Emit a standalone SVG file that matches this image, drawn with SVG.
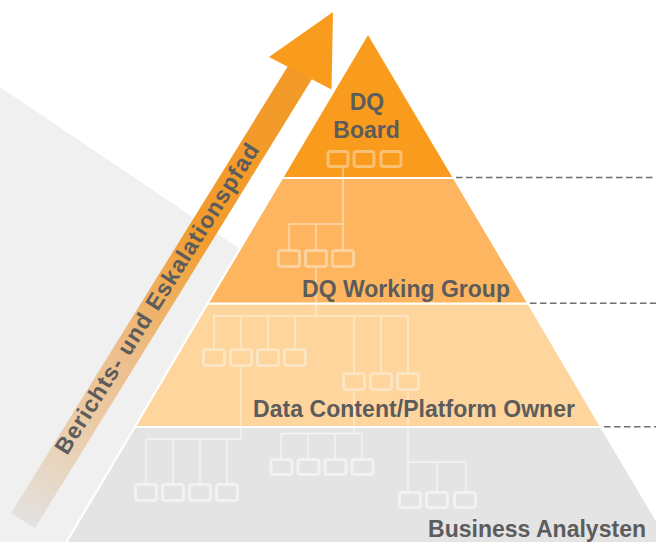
<svg xmlns="http://www.w3.org/2000/svg" width="656" height="542" viewBox="0 0 656 542">
  <defs>
    <linearGradient id="shaftGrad" gradientUnits="userSpaceOnUse" x1="299" y1="74" x2="23" y2="521">
      <stop offset="0" stop-color="#F29A28"/>
      <stop offset="0.36" stop-color="#F29C2D"/>
      <stop offset="0.5" stop-color="#EFB060"/>
      <stop offset="0.62" stop-color="#EDBD88"/>
      <stop offset="0.78" stop-color="#EBCCA8"/>
      <stop offset="1" stop-color="#E3E1DF"/>
    </linearGradient>
    <style>
      .layer { stroke: #FFFFFF; stroke-width: 2.2; stroke-linejoin: miter; }
      .label { font-family: "Liberation Sans", Arial, sans-serif; font-weight: bold; font-size: 23px; fill: #5C5C5C; }
      .org rect { fill: none; stroke: #FFFFFF; stroke-opacity: 0.38; stroke-width: 3; }
      .org path { fill: none; stroke: #FFFFFF; stroke-opacity: 0.5; stroke-width: 1.4; }
      .grey rect { stroke-opacity: 0.5; }
      .grey path { stroke-opacity: 0.6; }
      .level { fill: none; stroke: #6E6E6E; stroke-width: 1.6; stroke-dasharray: 6.5 3.5; }
    </style>
  </defs>

  <!-- background -->
  <rect x="0" y="0" width="656" height="542" fill="#FFFFFF"/>
  <polygon points="0,87 300,289.5 300,542 0,542" fill="#F0F0F0"/>

  <!-- pyramid levels -->
  <g id="business-analysten">
    <polygon class="layer" points="134.8,427 601.2,427 682,563 54,563" fill="#E4E4E4"/>
  </g>
  <g id="data-content-owner">
    <polygon class="layer" points="207.5,303.5 528.5,303.5 601.2,427 134.8,427" fill="#FED59D"/>
  </g>
  <g id="dq-working-group">
    <polygon class="layer" points="282,178 454,178 528.5,303.5 207.5,303.5" fill="#FDB65F"/>
  </g>
  <g id="dq-board">
    <polygon class="layer" points="368,33 454,178 282,178" fill="#F99B1C"/>
  </g>

  <!-- organisation charts inside the levels -->
  <g id="org-charts" class="org">
    <!-- board -->
    <rect x="328" y="151.5" width="20" height="15" rx="2.5"/>
    <rect x="354" y="151.5" width="20" height="15" rx="2.5"/>
    <rect x="381" y="151.5" width="20" height="15" rx="2.5"/>
    <path d="M343,168 V249 M289,224 H343 M289,224 V249 M316,224 V249"/>
    <!-- working group -->
    <rect x="278.5" y="250.5" width="21" height="16" rx="2.5"/>
    <rect x="305.5" y="250.5" width="21" height="16" rx="2.5"/>
    <rect x="332.5" y="250.5" width="21" height="16" rx="2.5"/>
    <path d="M316,268 V316 M214,316 H408 M214,316 V348 M241,316 V348 M268,316 V348 M295,316 V348 M354,316 V372 M381,316 V372 M408,316 V372"/>
    <!-- data content / platform owner -->
    <rect x="203.5" y="349.5" width="21" height="16" rx="2.5"/>
    <rect x="230.5" y="349.5" width="21" height="16" rx="2.5"/>
    <rect x="257.5" y="349.5" width="21" height="16" rx="2.5"/>
    <rect x="284.5" y="349.5" width="21" height="16" rx="2.5"/>
    <rect x="343.5" y="373.5" width="21" height="16" rx="2.5"/>
    <rect x="370.5" y="373.5" width="21" height="16" rx="2.5"/>
    <rect x="397.5" y="373.5" width="21" height="16" rx="2.5"/>
    <path d="M241,367 V427 M354,391 V427 M408,391 V427"/>
  </g>
  <g id="org-charts-base" class="org grey">
    <path d="M241,427 V439 M146,439 H241 M146,439 V483 M173,439 V483 M200,439 V483 M227,439 V483"/>
    <path d="M354,427 V433.5 M281,433.5 H362 M281,433.5 V458 M308,433.5 V458 M335,433.5 V458 M362,433.5 V458"/>
    <path d="M408,427 V491 M408,462 H466 M437,462 V491 M466,462 V491"/>
    <rect x="135.5" y="484.5" width="21" height="16" rx="2.5"/>
    <rect x="162.5" y="484.5" width="21" height="16" rx="2.5"/>
    <rect x="189.5" y="484.5" width="21" height="16" rx="2.5"/>
    <rect x="216.5" y="484.5" width="21" height="16" rx="2.5"/>
    <rect x="271" y="459.5" width="21" height="15" rx="2.5"/>
    <rect x="298" y="459.5" width="21" height="15" rx="2.5"/>
    <rect x="325" y="459.5" width="21" height="15" rx="2.5"/>
    <rect x="352" y="459.5" width="21" height="15" rx="2.5"/>
    <rect x="399.5" y="492.5" width="21" height="15" rx="2.5"/>
    <rect x="426.5" y="492.5" width="21" height="15" rx="2.5"/>
    <rect x="454.5" y="492.5" width="21" height="15" rx="2.5"/>
  </g>

  <!-- level labels -->
  <g id="labels">
    <text class="label" x="367" y="110" text-anchor="middle">DQ</text>
    <text class="label" x="366.5" y="138" text-anchor="middle">Board</text>
    <text class="label" x="302" y="297" textLength="208" lengthAdjust="spacing">DQ Working Group</text>
    <text class="label" x="253" y="417" textLength="322" lengthAdjust="spacing">Data Content/Platform Owner</text>
    <text class="label" x="428" y="537" textLength="218" lengthAdjust="spacing">Business Analysten</text>
  </g>

  <!-- level separators extended to the right -->
  <g id="connectors">
    <line class="level" x1="456" y1="177.5" x2="656" y2="177.5"/>
    <line class="level" x1="530" y1="303.3" x2="656" y2="303.3"/>
    <line class="level" x1="604" y1="426.8" x2="656" y2="426.8"/>
  </g>

  <!-- reporting / escalation arrow -->
  <g id="escalation-arrow">
    <polygon points="11,513 288,66 312,79 35,528" fill="url(#shaftGrad)"/>
    <polygon points="333,12 269,57 331.5,89.5" fill="#F99B1C"/>
    <text class="label" x="0" y="0" transform="translate(67,456) rotate(-57.8)" textLength="362" lengthAdjust="spacing">Berichts- und Eskalationspfad</text>
  </g>
</svg>
